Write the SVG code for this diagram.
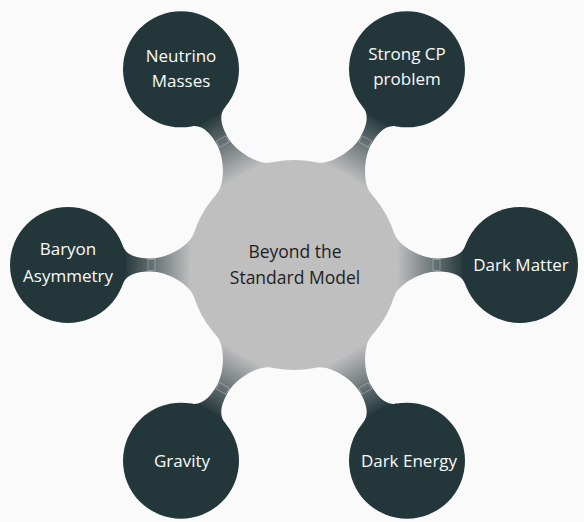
<svg xmlns="http://www.w3.org/2000/svg" width="584" height="522" viewBox="0 0 584 522">
<defs>
<linearGradient id="bar" gradientUnits="userSpaceOnUse" x1="103" y1="0" x2="170" y2="0">
<stop offset="0" stop-color="#bfbfbf"/>
<stop offset="1" stop-color="#23373b"/>
</linearGradient>
<path id="conn" d="M90,-32 L100,-32 C104.3,-18.7 128,-6.5 143,-6.5 C155,-6.5 167.9,-8.7 171.6,-20 L185,-22 L185,22 L171.6,20 C167.9,8.7 155,6.5 143,6.5 C128,6.5 104.3,18.7 100,32 L90,32 Z" fill="url(#bar)"/>
</defs>
<style>
.sat{fill:#23373b}
.hub{fill:#bfbfbf}
.lt{font-family:"Open Sans","DejaVu Sans",sans-serif;font-size:17px;fill:#fafafa;text-anchor:middle}
.dk{font-family:"Open Sans","DejaVu Sans",sans-serif;font-size:17.5px;fill:#1e1e1e;text-anchor:middle}
.art{fill:none;stroke:#e4e7e7;stroke-width:0.6;stroke-opacity:0.55}
</style>
<rect width="584" height="522" fill="#fafafa"/>
<g id="connectors">
<g transform="translate(294,265) rotate(0)"><use href="#conn"/><rect class="art" x="139" y="-5.5" width="7" height="11"/></g>
<g transform="translate(294,265) rotate(-60)"><use href="#conn"/><rect class="art" x="139" y="-5.5" width="7" height="11"/></g>
<g transform="translate(294,265) rotate(-120)"><use href="#conn"/><rect class="art" x="139" y="-5.5" width="7" height="11"/></g>
<g transform="translate(294,265) rotate(180)"><use href="#conn"/><rect class="art" x="139" y="-5.5" width="7" height="11"/></g>
<g transform="translate(294,265) rotate(120)"><use href="#conn"/><rect class="art" x="139" y="-5.5" width="7" height="11"/></g>
<g transform="translate(294,265) rotate(60)"><use href="#conn"/><rect class="art" x="139" y="-5.5" width="7" height="11"/></g>
</g>
<g id="center">
<circle class="hub" cx="294" cy="265" r="105"/>
<text class="dk" x="295" y="258.3">Beyond the</text>
<text class="dk" x="295" y="284">Standard Model</text>
</g>
<g id="neutrino">
<circle class="sat" cx="181" cy="69.3" r="58"/>
<text class="lt" x="181" y="61.7">Neutrino</text>
<text class="lt" x="181" y="87">Masses</text>
</g>
<g id="strongcp">
<circle class="sat" cx="407" cy="69.3" r="58"/>
<text class="lt" x="407" y="60">Strong CP</text>
<text class="lt" x="407" y="85">problem</text>
</g>
<g id="darkmatter">
<circle class="sat" cx="520" cy="265" r="58"/>
<text class="lt" x="521" y="270.7">Dark Matter</text>
</g>
<g id="darkenergy">
<circle class="sat" cx="407" cy="460.7" r="58"/>
<text class="lt" x="409" y="466.5">Dark Energy</text>
</g>
<g id="gravity">
<circle class="sat" cx="181" cy="460.7" r="58"/>
<text class="lt" x="182" y="466.5">Gravity</text>
</g>
<g id="baryon">
<circle class="sat" cx="68" cy="265" r="58"/>
<text class="lt" x="68" y="255">Baryon</text>
<text class="lt" x="68" y="281.7">Asymmetry</text>
</g>
</svg>
